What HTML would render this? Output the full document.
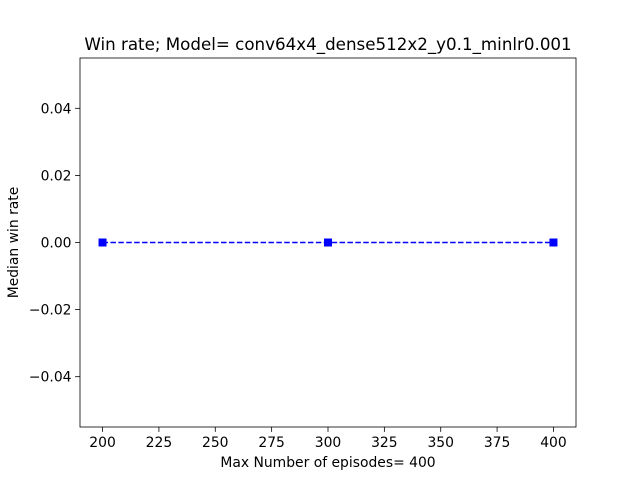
<!DOCTYPE html>
<html><head><meta charset="utf-8"><style>body{margin:0;background:#fff}svg{font-family:"DejaVu Sans","Liberation Sans",sans-serif}</style></head>
<body>
<svg id="c" width="640" height="480"></svg>
<script>
const xValues=[200,300,400];
const yValues=[0,0,0];
const xTicks=[200,225,250,275,300,325,350,375,400];
const yTicks=[-0.04,-0.02,0.00,0.02,0.04];
const yTickLabels=["\u22120.04","\u22120.02","0.00","0.02","0.04"];
const L=80,R=576,T=58,B=427,xmin=190,xmax=410,ymin=-0.055,ymax=0.055;
const sx=v=>L+(v-xmin)/(xmax-xmin)*(R-L);
const sy=v=>B-(v-ymin)/(ymax-ymin)*(B-T);
const svg=document.getElementById('c');const NS='http://www.w3.org/2000/svg';
function mk(t,a,txt){const e=document.createElementNS(NS,t);for(const k in a)e.setAttribute(k,a[k]);if(txt!=null)e.textContent=txt;svg.appendChild(e);return e;}
let e=mk('rect',{x:L,y:T,width:R-L,height:B-T,fill:'none',stroke:'#000','stroke-width':0.8});


xTicks.forEach(v=>{const x=sx(v);
e=mk('line',{x1:x,x2:x,y1:B,y2:B+4.9,stroke:'#000','stroke-width':0.8});


e=mk('text',{x:x,y:B+20,'font-size':13.9,'text-anchor':'middle'},String(v));

});
yTicks.forEach((v,i)=>{const y=sy(v);
e=mk('line',{x1:L-4.9,x2:L,y1:y,y2:y,stroke:'#000','stroke-width':0.8});


e=mk('text',{x:L-8.5,y:y+5,'font-size':13.9,'text-anchor':'end'},yTickLabels[i]);

});
e=mk('polyline',{points:xValues.map((v,i)=>sx(v)+','+sy(yValues[i])).join(' '),fill:'none',stroke:'#0000ff','stroke-width':1.5,'stroke-dasharray':'5.5,2.4'});


xValues.forEach((v,i)=>{
e=mk('rect',{x:sx(v)-4,y:sy(yValues[i])-4,width:8,height:8,fill:'#0000ff'});

});
e=mk('text',{x:(L+R)/2,y:T-8,'font-size':16.7,'text-anchor':'middle'},'Win rate; Model= conv64x4_dense512x2_y0.1_minlr0.001');


e=mk('text',{x:(L+R)/2,y:467,'font-size':13.9,'text-anchor':'middle'},'Max Number of episodes= 400');


e=mk('text',{x:18,y:(T+B)/2,'font-size':13.9,'text-anchor':'middle',transform:'rotate(-90 18 '+(T+B)/2+')'},'Median win rate');


</script>
</body></html>
